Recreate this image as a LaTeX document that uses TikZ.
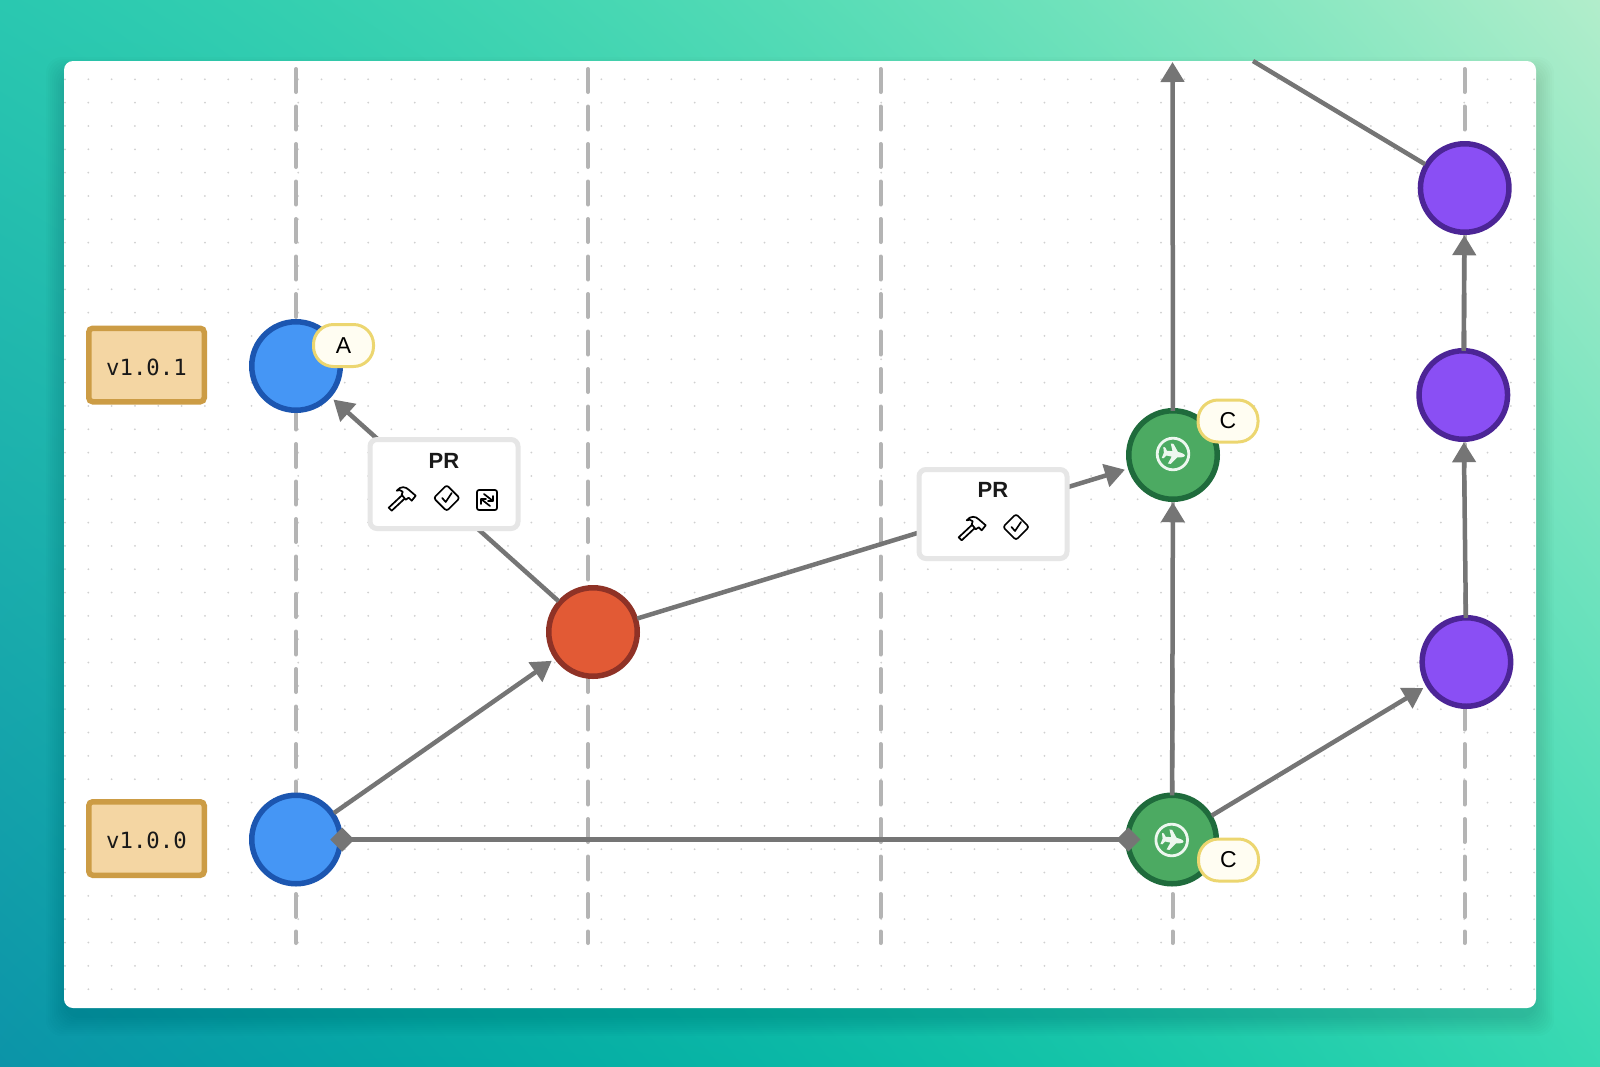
\documentclass[tikz,border=0pt]{standalone}
\usepackage{fontspec}
\setmainfont{Liberation Sans}
\newfontfamily\monof{DejaVu Sans Mono}
\usetikzlibrary{arrows.meta,shadings}
\definecolor{wire}{HTML}{757575}
\definecolor{lane}{HTML}{B4B4B4}
\definecolor{griddot}{HTML}{D0D0D0}
\definecolor{bluef}{HTML}{4596F5}\definecolor{blued}{HTML}{1C56B0}
\definecolor{redf}{HTML}{E25A35}\definecolor{redd}{HTML}{8F3226}
\definecolor{greenf}{HTML}{4CAA62}\definecolor{greend}{HTML}{1F6B3C}
\definecolor{purplef}{HTML}{8A4FF4}\definecolor{purpled}{HTML}{4C2596}
\definecolor{badgef}{HTML}{FFFDF2}\definecolor{badged}{HTML}{ECD670}
\definecolor{verf}{HTML}{F4D6A3}\definecolor{verd}{HTML}{CC9C45}
\definecolor{prb}{HTML}{E6E6E6}
\pgfdeclarefunctionalshading{bgshade}{\pgfpoint{-50bp}{-50bp}}{\pgfpoint{50bp}{50bp}}{}{
 25 add 50 div exch 25 add 50 div exch
 2 copy mul 0.361 mul 2 index -0.203 mul add 1 index 0.118 mul add 0.047 add 2 index dup mul 0.375 mul add 3 1 roll
 2 copy mul -0.126 mul 2 index 0.293 mul add 1 index 0.204 mul add 0.58 add 2 index dup mul -0.02 mul add 3 1 roll
 2 copy mul 0.066 mul 2 index -0.08 mul add 1 index 0.03 mul add 0.66 add 2 index dup mul 0.12 mul add
 3 1 roll pop pop
}
\tikzset{
 x=1pt,y=-1pt,
 commit/.style={circle,minimum size=88.5pt,inner sep=0pt,outer sep=0pt,line width=5.5pt},
 cblue/.style={commit,draw=blued,fill=bluef},
 cred/.style={commit,draw=redd,fill=redf},
 cgreen/.style={commit,draw=greend,fill=greenf},
 cpurple/.style={commit,draw=purpled,fill=purplef},
 verbox/.style={draw=verd,fill=verf,line width=5.5pt,rounded corners=4pt,minimum width=115.5pt,minimum height=73.5pt,inner sep=0pt,text height=22pt,text depth=2pt,font=\monof\fontsize{22.3}{26}\selectfont,text=black!90},
 badge/.style={draw=badged,fill=badgef,line width=3pt,rounded corners=20pt,minimum width=60pt,minimum height=42pt,inner sep=0pt,font=\fontsize{23}{26}\selectfont},
 prbox/.style={draw=prb,fill=white,line width=5pt,rounded corners=7pt,minimum width=148pt,minimum height=89pt,inner sep=0pt},
 prlabel/.style={inner sep=0pt,font=\bfseries\fontsize{22}{26}\selectfont,text=black!90},
 wireline/.style={draw=wire,line width=4.5pt},
 arrowed/.style={wireline,-{Triangle[length=20pt,width=23pt]},shorten >=5pt},
 iconline/.style={draw=black,line width=1.7pt,line join=round,line cap=round},
 hammer/.pic={
  \path[iconline,fill=white] (-13,10) -- (-10,13) -- (5,-1) -- (2,-4) -- cycle;
  \path[iconline,fill=white] (-5,-7) .. controls (-1,-12) and (4,-11) .. (7,-8) -- (14,-2) -- (10,3) -- (7,0) -- (4,2) -- (0,-3) -- (1,-6) .. controls (-1,-8) and (-3,-8) .. (-5,-7) -- cycle;
 },
 checkdiamond/.pic={
  \path[iconline,rounded corners=2.5pt] (0,-13) -- (13,0) -- (0,13) -- (-13,0) -- cycle;
  \path[iconline] (-4.5,0) -- (-1,4) -- (5,-5);
 },
 swapsquare/.pic={
  \path[iconline,rounded corners=2pt] (-10,-10) rectangle (10,10);
  \path[iconline] (-3,-6) -- (6,1) (6,1) -- (6,-4) (6,1) -- (1,1);
  \path[iconline] (3,6) -- (-6,-1) (-6,-1) -- (-6,4) (-6,-1) -- (-1,-1);
 },
 planeicon/.pic={
  \draw[white!90!greenf,line width=2.8pt] (0,0) circle (15.8pt);
  \fill[white!90!greenf,rotate=-8,scale=0.92] (13,0) .. controls (13,-1.8) and (8,-2.8) .. (5,-3) -- (-1,-11) -- (-4,-11) -- (-1,-3) -- (-7,-2.6) -- (-9.5,-6) -- (-11.5,-6) -- (-10,0) -- (-11.5,6) -- (-9.5,6) -- (-7,2.6) -- (-1,3) -- (-4,11) -- (-1,11) -- (5,3) .. controls (8,2.8) and (13,1.8) .. (13,0) -- cycle;
 },
}
\begin{document}
\begin{tikzpicture}
\useasboundingbox (0,0) rectangle (1600,1066);
\shade[shading=bgshade] (0,0) rectangle (1600,1066);
\foreach \s in {18,16,14,12,10,8,6,4,2,0}
  \fill[black,opacity=0.01,rounded corners=16pt] (64-\s,61-\s+14) rectangle (1536+\s,1008+\s+10);
\fill[white,rounded corners=9pt] (64,61) rectangle (1536,1008);
% dot grid
\foreach \i in {0,...,63}
  \foreach \j in {0,...,39}
    \fill[griddot] ({65+\i*23.32},{79.3+\j*23.33}) circle (1pt);
% lanes
\foreach \lx in {296,588,880.5,1172.5,1464.5}
  \draw[lane,line width=4pt,line cap=round,dash pattern=on 23pt off 14.5pt] (\lx,69) -- (\lx,943);
% free ends
\coordinate (upEnd) at (1172.5,62);
\coordinate (outEnd) at (1253,61);
% commits
\node[cblue] (a1) at (296,366) {};
\node[cblue] (a0) at (296,839.5) {};
\node[cred] (r) at (593,632) {};
\node[cgreen] (g1) at (1173,455) {};
\node[cgreen] (g0) at (1172,839.5) {};
\node[cpurple] (p3) at (1464.7,188) {};
\node[cpurple] (p2) at (1463.3,395) {};
\node[cpurple] (p1) at (1466.4,662) {};
% connectors
\draw[arrowed,shorten >=6pt,shorten <=2pt] (r) -- (a1);
\draw[arrowed,shorten >=6pt,shorten <=2pt] (a0) -- (r);
\draw[arrowed,shorten >=6pt,shorten <=2pt] (r) -- (g1);
\draw[arrowed,shorten >=6pt,shorten <=2pt] (g0) -- (p1);
\draw[arrowed,shorten >=3pt] (g0) -- (g1);
\draw[arrowed,shorten >=0pt] (g1) -- (upEnd);
\draw[arrowed,shorten >=3pt] (p1) -- (p2);
\draw[arrowed,shorten >=3pt] (p2) -- (p3);
\draw[wireline,shorten <=2pt] (p3) -- (outEnd);
\draw[wireline,{Diamond[length=24pt,width=24pt]}-{Diamond[length=24pt,width=24pt]},shorten <=-10pt,shorten >=-12.5pt] (a0) -- (g0);
% version tags
\node[verbox] (v1) at (146.5,365) {v1.0.1};
\node[verbox] (v0) at (146.5,838.5) {v1.0.0};
% badges
\node[badge] (ba) at (343.5,345.5) {A};
\node[badge] (bc1) at (1228,421) {C};
\node[badge] (bc0) at (1228.5,860) {C};
% PR boxes
\node[prbox] (pr1) at (444,484) {};
\node[prlabel] (pr1t) at (444,461) {PR};
\node[prbox] (pr2) at (993,514) {};
\node[prlabel] (pr2t) at (993,490) {PR};
% icons
\pic at (401.7,497.7) {hammer};
\pic at (446.7,498) {checkdiamond};
\pic at (487,500) {swapsquare};
\pic at (971.7,527.3) {hammer};
\pic at (1016,527) {checkdiamond};
\pic at (1173,454) {planeicon};
\pic at (1171.7,840) {planeicon};
\end{tikzpicture}
\end{document}
